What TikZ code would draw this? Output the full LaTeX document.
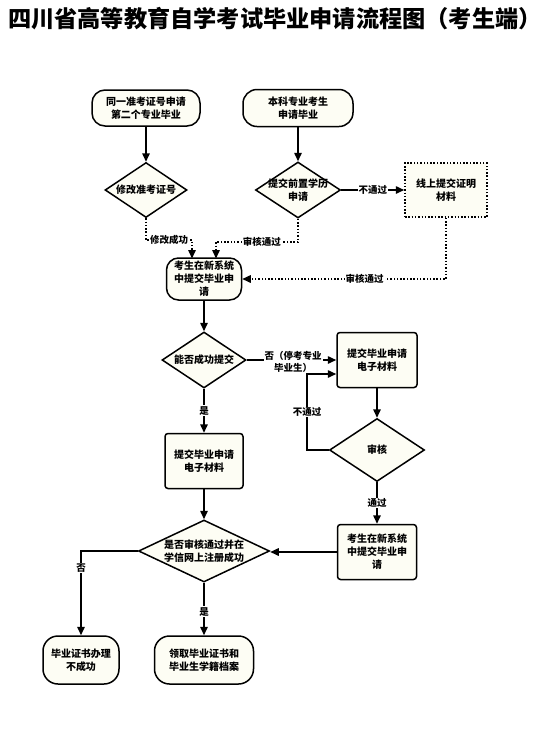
\documentclass[tikz,border=0pt]{standalone}
\usepackage{fontspec}
\newfontfamily\cjk{Noto Sans CJK SC}
\usetikzlibrary{shapes.geometric,arrows.meta}
\definecolor{boxfill}{RGB}{253,253,244}
\tikzset{
  base/.style={draw, line width=1.5pt, fill=boxfill, align=center, inner sep=0pt,
    font=\cjk\bfseries\fontsize{10}{13}\selectfont},
  rbox/.style={base},
  sbox/.style={base, rounded corners=3pt},
  dia/.style={draw, line width=1.5pt, fill=boxfill, diamond, inner sep=0pt},
  txt/.style={align=center, inner sep=0pt, font=\cjk\bfseries\fontsize{10}{13}\selectfont},
  lbl/.style={fill=white, align=center, inner sep=1pt, font=\cjk\bfseries\fontsize{9.5}{12}\selectfont},
  arr/.style={line width=1.5pt, -{Triangle[length=8.5pt,width=7.5pt]}},
  darr/.style={arr, dash pattern=on 1.5pt off 1.8pt},
  dline/.style={line width=1.5pt, dash pattern=on 1.5pt off 1.8pt},
  sline/.style={line width=1.5pt}
}
\begin{document}
\begin{tikzpicture}[x=1pt,y=-1pt]
\useasboundingbox (0,0) rectangle (550,748);
\node[font=\cjk\bfseries\fontsize{23.2}{25}\selectfont, inner sep=0pt] (T) at (275,19) {四川省高等教育自学考试毕业申请流程图（考生端）};

\node[rbox, minimum width=108pt, minimum height=36pt, rounded corners=13pt] (A) at (146,108) {同一准考证号申请\\第二个专业毕业};
\node[rbox, minimum width=110pt, minimum height=37pt, rounded corners=14pt] (B) at (298,108) {本科专业考生\\申请毕业};
\node[dia, minimum width=82pt, minimum height=55pt] (C) at (146,190) {};
\node[txt] (Ct) at (C) {修改准考证号};
\node[dia, minimum width=85pt, minimum height=56pt] (D) at (298,190) {};
\node[txt] (Dt) at (D) {提交前置学历\\申请};
\node[base, dash pattern=on 1.5pt off 1.8pt, minimum width=82pt, minimum height=54pt] (E) at (446,190) {线上提交证明\\材料};
\node[rbox, minimum width=75pt, minimum height=42pt, rounded corners=12pt] (F) at (204,279) {考生在新系统\\中提交毕业申\\请};
\node[dia, minimum width=84pt, minimum height=56pt] (G) at (204,360) {};
\node[txt] (Gt) at (G) {能否成功提交};
\node[sbox, minimum width=80pt, minimum height=55pt] (H) at (377,360) {提交毕业申请\\电子材料};
\node[dia, minimum width=95pt, minimum height=63pt] (I) at (377,450) {};
\node[txt] (It) at (I) {审核};
\node[sbox, minimum width=78pt, minimum height=55pt] (J) at (204,461) {提交毕业申请\\电子材料};
\node[dia, minimum width=131pt, minimum height=62pt] (K) at (204,551) {};
\node[txt] (Kt) at (K) {是否审核通过并在\\学信网上注册成功};
\node[sbox, minimum width=79pt, minimum height=55pt] (L) at (377,552) {考生在新系统\\中提交毕业申\\请};
\node[rbox, minimum width=76pt, minimum height=48pt, rounded corners=15pt] (M) at (81,660) {毕业证书办理\\不成功};
\node[rbox, minimum width=99pt, minimum height=48pt, rounded corners=15pt] (N) at (204,660) {领取毕业证书和\\毕业生学籍档案};

% connectors
\draw[arr] (A) -- (C);
\draw[arr] (B) -- (D);
\draw[arr] (D) -- node[lbl] (l1) {不通过} (E);
\draw[darr] (C.south) |- (192,240) node[lbl, pos=0.75] (l2) {修改成功} -- (192,258.5);
\draw[darr] (D.south) |- (216,242) node[lbl, pos=0.72] (l3) {审核通过} -- (216,258.5);
\draw[darr] (E.south) |- (F.east) node[lbl, pos=0.7] (l4) {审核通过};
\draw[arr] (F) -- (G);
\draw[arr] (G.east) -- (H.west |- G.east);
\node[lbl] (l5) at (293,362) {否（停考专业\\毕业生）};
\draw[arr] (H) -- (I);
\draw[arr] (I.west) -- (307,450) -- node[lbl] (l6) {不通过} (307,374) -- (H.west |- 0,374);
\draw[arr] (I) -- node[lbl] (l7) {通过} (L);
\draw[arr] (G) -- node[lbl] (l8) {是} (J);
\draw[arr] (J) -- (K);
\draw[arr] (L.west) -- (K.east |- L.west);
\draw[arr] (K.west) -| node[lbl, pos=0.6] (l9) {否} (M.north);
\draw[arr] (K) -- node[lbl, pos=0.55] (l10) {是} (N);
\end{tikzpicture}
\end{document}
